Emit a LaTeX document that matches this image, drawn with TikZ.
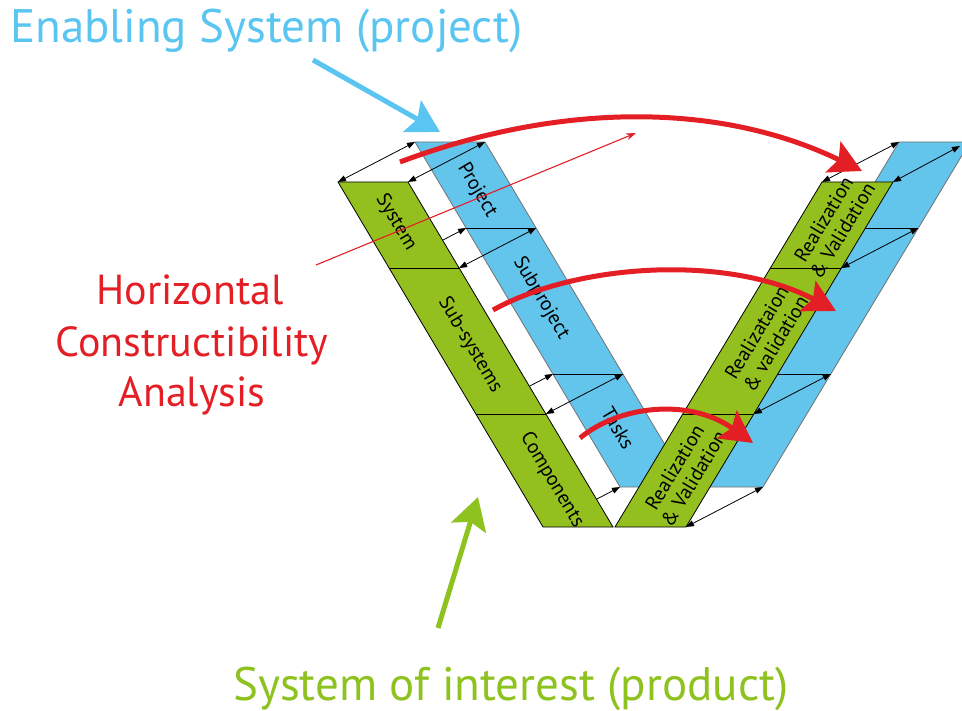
\documentclass[tikz,border=0pt]{standalone}
\usepackage{fontspec}
\setmainfont{PT Sans}
\usetikzlibrary{arrows.meta,calc}
\definecolor{bandblue}{RGB}{99,196,236}
\definecolor{bandgreen}{RGB}{147,192,31}
\definecolor{redarc}{RGB}{227,30,36}
\definecolor{titleblue}{RGB}{91,197,242}
\definecolor{titlegreen}{RGB}{141,194,31}
\begin{document}
\begin{tikzpicture}[x=1pt,y=-1pt,
  blueband/.style={fill=bandblue,draw=black!55,line width=0.8pt},
  greenband/.style={fill=bandgreen,draw=black,line width=0.8pt},
  divline/.style={draw=black,line width=0.8pt},
  link/.style={draw=black,line width=0.8pt,{Triangle[length=8pt,width=6pt]}-{Triangle[length=8pt,width=6pt]}},
  bandtext/.style={font=\fontsize{20}{22}\selectfont,align=center,inner sep=0pt},
  bigred/.style={draw=redarc,line width=5pt,-{Stealth[length=32pt,width=34pt,inset=6pt]}},
  thinred/.style={draw=redarc,line width=1.1pt,-{Stealth[length=10pt,width=7pt]}},
  bluecall/.style={draw=titleblue,line width=5pt,-{Stealth[length=32pt,width=36pt,inset=6pt]}},
  greencall/.style={draw=titlegreen,line width=5pt,-{Stealth[length=32pt,width=36pt,inset=6pt]}},
  bigtext/.style={font=\fontsize{47}{52}\selectfont,inner sep=0pt},
  redtext/.style={font=\fontsize{42}{51}\selectfont,text=redarc,inner sep=0pt}
]
\useasboundingbox (0,0) rectangle (962,711);
\clip (0,0) rectangle (962,711);
% ---- corner coordinates
% green left
\coordinate (gLtl) at (338,182); \coordinate (gLtr) at (408,182);
\coordinate (gLbr) at (613,527); \coordinate (gLbl) at (543,527);
\coordinate (gLd1l) at (389.1,268); \coordinate (gLd1r) at (459.1,268);
\coordinate (gLd2l) at (475.9,414); \coordinate (gLd2r) at (545.9,414);
% blue left
\coordinate (bLtl) at (415,142); \coordinate (bLtr) at (485,142);
\coordinate (bLbr) at (690,487); \coordinate (bLbl) at (620,487);
\coordinate (bLd1l) at (466.1,228); \coordinate (bLd1r) at (536.1,228);
\coordinate (bLd2l) at (552.9,374); \coordinate (bLd2r) at (622.9,374);
% green right
\coordinate (gRbl) at (615,527); \coordinate (gRbr) at (686,527);
\coordinate (gRtr) at (893,182); \coordinate (gRtl) at (822,182);
\coordinate (gRd1l) at (770.4,268); \coordinate (gRd1r) at (841.4,268);
\coordinate (gRd2l) at (682.8,414); \coordinate (gRd2r) at (753.8,414);
% blue right
\coordinate (bRbl) at (692,487); \coordinate (bRbr) at (763,487);
\coordinate (bRtr) at (970,142); \coordinate (bRtl) at (899,142);
\coordinate (bRd1l) at (847.4,228); \coordinate (bRd1r) at (918.4,228);
\coordinate (bRd2l) at (759.8,374); \coordinate (bRd2r) at (830.8,374);
\coordinate (bRtip) at (960,146);
% ---- blue bands
\path[blueband] (bLtl) -- (bLtr) -- (bLbr) -- (bLbl) -- cycle;
\draw[divline] (bLd1l) -- (bLd1r);
\draw[divline] (bLd2l) -- (bLd2r);
\path[blueband] (bRtl) -- (bRtr) -- (bRbr) -- (bRbl) -- cycle;
\draw[divline] (bRd1l) -- (bRd1r);
\draw[divline] (bRd2l) -- (bRd2r);
% ---- links
\draw[link] (gLtl) -- (bLtl);
\draw[link] (gLtr) -- (bLtr);
\draw[link] (gLd1l) -- (bLd1l);
\draw[link] (gLd1r) -- (bLd1r);
\draw[link] (gLd2l) -- (bLd2l);
\draw[link] (gLd2r) -- (bLd2r);
\draw[link] (gLbl) -- (bLbl);
\draw[link] (gRtl) -- (bRtl);
\draw[link] (gRtr) -- (bRtip);
\draw[link] (gRd1r) -- (bRd1r);
\draw[link] (gRd2r) -- (bRd2r);
\draw[link] (gRbr) -- (bRbr);
% ---- green bands
\path[greenband] (gLtl) -- (gLtr) -- (gLbr) -- (gLbl) -- cycle;
\draw[divline] (gLd1l) -- (gLd1r);
\draw[divline] (gLd2l) -- (gLd2r);
\path[greenband] (gRtl) -- (gRtr) -- (gRbr) -- (gRbl) -- cycle;
\draw[divline] (gRd1l) -- (gRd1r);
\draw[divline] (gRd2l) -- (gRd2r);
% ---- band labels
\node[bandtext,rotate=-59.3] (tSystem) at (396,222) {System};
\node[bandtext,rotate=-59.3] (tSubsys) at (470,345) {Sub-systems};
\node[bandtext,rotate=-59.3] (tComp) at (552,480) {Components};
\node[bandtext,rotate=-59.3] (tProj) at (477,190) {Project};
\node[bandtext,rotate=-59.3] (tSubproj) at (541,298) {Subproject};
\node[bandtext,rotate=-59.3] (tTasks) at (618,428) {Tasks};
\node[bandtext,rotate=59] (tRV1) at (833,225) {Realization\\\& Validation};
\node[bandtext,rotate=59] (tRV2) at (766,338) {Realizataion\\\& validation};
\node[bandtext,rotate=59] (tRV3) at (684,473) {Realization\\\& Validation};
% ---- red arrows
\coordinate (r0s) at (316,265); \coordinate (r0e) at (636,133);
\draw[thinred] (r0s) -- (r0e);
\coordinate (r1s) at (400,162); \coordinate (r1e) at (862,171);
\draw[bigred] (r1s) .. controls (560,102) and (720,102) .. (r1e);
\coordinate (r2s) at (493,310); \coordinate (r2e) at (836,311);
\draw[bigred] (r2s) .. controls (580,262) and (730,255) .. (r2e);
\coordinate (r3s) at (580,438); \coordinate (r3e) at (753,443);
\draw[bigred] (r3s) .. controls (620,405) and (690,398) .. (r3e);
% ---- callouts
\node[bigtext,text=titleblue,anchor=base west] (enab) at (10,43) {Enabling System (project)};
\coordinate (bcs) at (313,60); \coordinate (bce) at (440,132);
\draw[bluecall] (bcs) -- (bce);
\node[bigtext,text=titlegreen,anchor=base west] (soi) at (233,700) {System of interest (product)};
\coordinate (gcs) at (438,628); \coordinate (gce) at (478,497);
\draw[greencall] (gcs) -- (gce);
\node[redtext,anchor=base] (h1) at (190,305) {Horizontal};
\node[redtext,anchor=base] (h2) at (192,357) {Constructibility};
\node[redtext,anchor=base] (h3) at (192,407) {Analysis};
\end{tikzpicture}
\end{document}
